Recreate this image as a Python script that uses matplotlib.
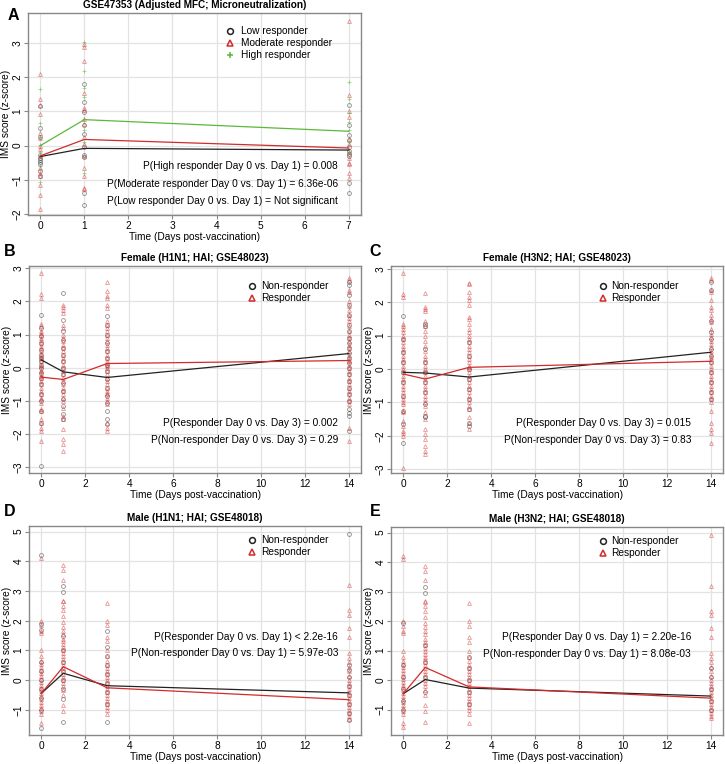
import matplotlib
matplotlib.use("Agg")
import matplotlib.pyplot as plt

plt.rcParams['font.family'] = ['Liberation Sans', 'DejaVu Sans']

# ---- panel A: GSE47353, days 0 / 1 / 7 ----
A_days = [0, 1, 7]
A_low = [
    [1.15, 0.51, 0.25, -0.28, -0.35, -0.42, -0.48, -0.55, -0.75, -0.90],
    [1.80, 1.28, 0.98, 0.60, 0.35, -0.05, -0.27, -0.32, -1.40, -1.73],
    [1.20, 0.60, 0.30, 0.15, -0.05, -0.15, -0.25, -0.30, -1.10, -1.40],
]
A_mod = [
    [2.09, 1.37, 1.18, 0.92, 0.38, 0.23, 0.00, -0.10, -0.30, -0.65, -0.80, -0.90, -1.15, -1.45, -1.85],
    [2.98, 2.88, 2.49, 1.55, 1.10, 1.05, 0.78, 0.64, 0.24, 0.05, -0.29, -0.65, -0.90, -1.25, -1.28],
    [3.65, 1.48, 1.00, 0.85, 0.20, 0.05, -0.20, -0.35, -0.50, -0.55, -0.80, -0.95],
]
A_high = [
    [1.65, 0.65, 0.25, 0.02, -0.20, -0.60, -1.05],
    [3.04, 2.17, 1.68, 1.43, 0.78, 0.47, 0.10, -0.80],
    [1.85, 1.35, 0.95, 0.70, 0.45, 0.10, -0.20],
]
A_low_mean = [-0.32, -0.08, -0.13]
A_mod_mean = [-0.30, 0.18, -0.07]
A_high_mean = [0.00, 0.76, 0.42]
A_pvals = ["P(High responder Day 0 vs. Day 1) = 0.008",
           "P(Moderate responder Day 0 vs. Day 1) = 6.36e-06",
           "P(Low responder Day 0 vs. Day 1) = Not significant"]

# ---- panels B-E: days 0 / 1 / 3 / 14 ----
days4 = [0, 1, 3, 14]

B_non = [
    [1.58, 1.2, 0.95, 0.75, 0.55, 0.4, 0.3, 0.2, 0.1, 0.0, -0.15, -0.3, -0.5, -0.8, -1.0, -1.3, -1.65, -2.97],
    [2.26, 1.45, 1.1, 0.85, 0.6, 0.4, 0.2, 0.0, -0.2, -0.45, -0.7, -0.95, -1.15, -1.4, -1.55],
    [1.55, 1.3, 1.0, 0.75, 0.5, 0.3, 0.1, -0.1, -0.35, -0.6, -0.85, -1.05, -1.3, -1.55, -1.7],
    [2.6, 2.5, 2.2, 1.9, 1.6, 1.3, 1.1, 0.9, 0.75, 0.6, 0.45, 0.3, 0.15, 0.0, -0.2, -0.4, -0.6, -0.8,
     -1.0, -1.25, -1.35, -1.45, -1.9],
]
B_res = [
    [2.86, 2.23, 2.1, 1.32, 1.25, 1.12, 1.05, 1.0, 0.9, 0.85, 0.75, 0.65, 0.6, 0.5, 0.42, 0.35, 0.3, 0.2,
     0.1, 0.05, -0.05, -0.1, -0.2, -0.25, -0.3, -0.4, -0.5, -0.6, -0.7, -0.8, -0.9, -0.95, -1.05, -1.25,
     -1.3, -1.55, -1.65, -1.8, -1.9, -2.2],
    [1.88, 1.82, 1.75, 1.65, 1.3, 1.2, 1.0, 0.9, 0.8, 0.7, 0.6, 0.5, 0.4, 0.3, 0.2, 0.1, 0.0, -0.1, -0.2,
     -0.3, -0.4, -0.5, -0.6, -0.7, -0.8, -0.9, -1.0, -1.2, -1.45, -1.55, -1.85, -2.15, -2.3, -2.5],
    [2.58, 2.32, 2.18, 2.1, 1.9, 1.8, 1.4, 1.3, 1.2, 1.1, 1.0, 0.9, 0.8, 0.7, 0.6, 0.5, 0.4, 0.3, 0.2,
     0.15, 0.1, 0.05, 0.0, -0.1, -0.2, -0.3, -0.4, -0.5, -0.6, -0.7, -0.75, -0.8, -0.9, -1.0, -1.1,
     -1.65, -1.8, -1.9],
    [2.72, 2.65, 2.35, 2.3, 2.0, 1.85, 1.75, 1.6, 1.5, 1.4, 1.25, 1.1, 1.0, 0.9, 0.8, 0.7, 0.6, 0.5, 0.4,
     0.3, 0.25, 0.2, 0.1, 0.0, -0.1, -0.2, -0.3, -0.4, -0.5, -0.6, -0.7, -0.8, -0.9, -1.0, -1.1, -1.8, -2.2],
]
B_non_mean = [0.24, -0.12, -0.29, 0.43]
B_res_mean = [-0.28, -0.35, 0.13, 0.22]
B_pvals = ["P(Responder Day 0 vs. Day 3) = 0.002",
           "P(Non-responder Day 0 vs. Day 3) = 0.29"]

C_non = [
    [1.58, 0.9, 0.5, 0.2, -0.1, -0.4, -0.8, -1.25, -1.65, -2.2],
    [1.35, 1.3, 0.6, 0.2, -0.1, -0.4, -0.7, -1.05, -1.4, -1.45],
    [0.8, 0.4, 0.0, -0.3, -0.6, -0.9, -1.2, -1.6, -1.7],
    [2.6, 2.35, 1.45, 1.1, 0.9, 0.6, 0.4, 0.2, -0.1, -0.4, -0.7, -0.9],
]
C_res = [
    [2.86, 2.25, 2.15, 1.35, 1.3, 1.2, 1.1, 1.0, 0.9, 0.8, 0.7, 0.6, 0.5, 0.4, 0.3, 0.2, 0.1, 0.0, -0.1,
     -0.2, -0.3, -0.4, -0.5, -0.6, -0.7, -0.8, -0.9, -1.0, -1.05, -1.25, -1.3, -1.55, -1.7, -1.85, -1.9,
     -2.0, -2.95],
    [2.28, 1.85, 1.8, 1.72, 1.45, 1.3, 1.15, 1.0, 0.85, 0.7, 0.55, 0.4, 0.3, 0.2, 0.1, 0.0, -0.1, -0.2,
     -0.3, -0.4, -0.5, -0.6, -0.7, -0.8, -0.9, -1.0, -1.1, -1.3, -1.5, -1.8, -1.95, -2.1, -2.3, -2.45, -2.55],
    [2.58, 2.55, 2.3, 2.15, 2.05, 1.9, 1.55, 1.5, 1.35, 1.2, 1.1, 1.0, 0.9, 0.8, 0.7, 0.6, 0.5, 0.4, 0.3,
     0.2, 0.1, 0.05, 0.0, -0.1, -0.2, -0.3, -0.4, -0.5, -0.6, -0.7, -0.8, -0.9, -1.0, -1.1, -1.2, -1.45,
     -1.6, -1.8],
    [2.72, 2.65, 2.35, 2.3, 2.05, 1.85, 1.75, 1.6, 1.5, 1.4, 1.2, 1.05, 0.95, 0.85, 0.75, 0.65, 0.55, 0.45,
     0.35, 0.3, 0.2, 0.1, 0.0, -0.1, -0.2, -0.3, -0.4, -0.5, -0.6, -0.7, -0.8, -0.9, -1.0, -1.25, -1.6,
     -1.8, -1.9, -2.2],
]
C_non_mean = [-0.10, -0.12, -0.24, 0.50]
C_res_mean = [-0.15, -0.30, 0.05, 0.23]
C_pvals = ["P(Responder Day 0 vs. Day 3) = 0.015",
           "P(Non-responder Day 0 vs. Day 3) = 0.83"]

D_non = [
    [4.2, 1.9, 1.7, 0.6, 0.3, 0.0, -0.3, -0.6, -1.0, -1.6],
    [3.17, 2.96, 1.5, 1.0, 0.6, 0.3, 0.0, -0.3, -0.65, -1.42],
    [1.67, 1.1, 0.8, 0.5, 0.2, -0.1, -0.4, -0.8, -1.42],
    [4.93, 0.5, 0.35, 0.1, -0.2, -0.5, -0.8, -1.1, -1.35],
]
D_res = [
    [4.1, 2.0, 1.85, 1.65, 1.6, 1.0, 0.8, 0.65, 0.55, 0.45, 0.35, 0.25, 0.15, 0.05, -0.05, -0.15, -0.25,
     -0.35, -0.45, -0.55, -0.65, -0.75, -0.85, -0.95, -1.05, -1.15, -1.45],
    [3.88, 3.7, 3.38, 2.68, 2.65, 2.5, 2.35, 2.15, 1.95, 1.8, 1.65, 1.55, 1.4, 1.3, 1.2, 1.1, 1.0, 0.9,
     0.8, 0.7, 0.6, 0.5, 0.4, 0.3, 0.2, 0.1, 0.0, -0.1, -0.2, -0.35, -0.5, -0.85, -1.05],
    [2.6, 2.0, 1.85, 1.45, 1.3, 1.0, 0.8, 0.65, 0.5, 0.4, 0.3, 0.2, 0.1, 0.0, -0.1, -0.2, -0.3, -0.4,
     -0.5, -0.6, -0.7, -0.8, -0.9, -1.0, -1.15],
    [3.2, 2.35, 2.2, 1.75, 1.45, 0.92, 0.75, 0.6, 0.45, 0.3, 0.15, 0.0, -0.1, -0.2, -0.3, -0.4, -0.5,
     -0.6, -0.7, -0.8, -0.9, -1.0, -1.1, -1.2, -1.3],
]
D_non_mean = [-0.45, 0.23, -0.19, -0.43]
D_res_mean = [-0.45, 0.45, -0.26, -0.66]
D_pvals = ["P(Responder Day 0 vs. Day 1) < 2.2e-16",
           "P(Non-responder Day 0 vs. Day 1) = 5.97e-03"]

E_non = [
    [1.95, 0.5, 0.1, -0.3, -0.7, -1.0],
    [3.17, 2.96, 1.2, 0.6, 0.1, -0.4],
    [0.8, 0.4, 0.0, -0.4, -0.8],
    [0.4, 0.1, -0.3, -0.7, -1.0],
]
E_res = [
    [4.2, 4.1, 2.0, 1.85, 1.65, 1.6, 1.0, 0.8, 0.65, 0.55, 0.45, 0.35, 0.25, 0.15, 0.05, -0.05, -0.15,
     -0.25, -0.35, -0.45, -0.55, -0.65, -0.75, -0.85, -0.95, -1.05, -1.15, -1.45, -1.6],
    [3.88, 3.7, 3.38, 2.68, 2.65, 2.5, 2.35, 2.15, 1.95, 1.8, 1.65, 1.55, 1.4, 1.3, 1.2, 1.1, 1.0, 0.9,
     0.8, 0.7, 0.6, 0.5, 0.4, 0.3, 0.2, 0.1, 0.0, -0.1, -0.2, -0.35, -0.5, -0.85, -1.05, -1.42],
    [2.6, 2.0, 1.85, 1.45, 1.3, 1.0, 0.8, 0.65, 0.5, 0.4, 0.3, 0.2, 0.1, 0.0, -0.1, -0.2, -0.3, -0.4,
     -0.5, -0.6, -0.7, -0.8, -0.9, -1.0, -1.15, -1.45],
    [4.93, 3.2, 2.35, 2.2, 1.75, 1.45, 0.92, 0.75, 0.6, 0.45, 0.3, 0.15, 0.0, -0.1, -0.2, -0.3, -0.4,
     -0.5, -0.6, -0.7, -0.8, -0.9, -1.0, -1.1, -1.2, -1.3],
]
E_non_mean = [-0.46, 0.02, -0.27, -0.54]
E_res_mean = [-0.46, 0.43, -0.23, -0.61]
E_pvals = ["P(Responder Day 0 vs. Day 1) = 2.20e-16",
           "P(Non-responder Day 0 vs. Day 1) = 8.08e-03"]

BLACK = "#222222"
RED = "#d22b2b"
GREEN = "#5cb83c"
FS = 7.3

W, H = 725, 764
fig = plt.figure(figsize=(W / 100, H / 100), dpi=100)


def px_axes(left, top, right, bottom):
    return fig.add_axes([left / W, 1 - bottom / H, (right - left) / W, (bottom - top) / H])


STYLES = {
    "low": dict(marker="o", color=BLACK, alpha=0.5, ms=2.8),
    "mod": dict(marker="^", color=RED, alpha=0.5, ms=2.8),
    "high": dict(marker="+", color=GREEN, alpha=0.6, ms=3.5),
}


def scatter_group(ax, days, values, style):
    for d, vals in zip(days, values):
        ax.plot([d] * len(vals), vals, ls="none", marker=style["marker"], ms=style["ms"],
                mfc="none", mec=style["color"], mew=0.6, alpha=style["alpha"])


def setup(ax, xticks, xlim, ylim, yticks, title, letter_xy, letter):
    ax.set_xlim(*xlim)
    ax.set_ylim(*ylim)
    ax.set_xticks(xticks)
    ax.set_yticks(yticks)
    ax.grid(True, color="#e3e3e3", lw=0.9)
    ax.set_axisbelow(True)
    for s in ax.spines.values():
        s.set_color("#888888")
        s.set_linewidth(1.0)
    ax.tick_params(axis="both", colors="#888888", labelcolor="black", labelsize=FS,
                   length=2.8, width=0.8, pad=1.5)
    ax.tick_params(axis="y", labelrotation=90, pad=1.2)
    ax.set_yticklabels([str(t).replace("-", "\u2212") for t in yticks])
    for lab in ax.get_yticklabels():
        lab.set_va("center")
    ax.set_xlabel("Time (Days post-vaccination)", fontsize=FS)
    ax.set_ylabel("IMS score (z-score)", fontsize=FS)
    bb = ax.get_position()
    hpx = bb.height * H
    wpx = bb.width * W
    ax.xaxis.set_label_coords(0.5, -22.5 / hpx)
    ax.xaxis.label.set_va("center")
    ax.yaxis.set_label_coords(-22 / wpx, 0.5)
    ax.yaxis.label.set_va("center")
    ax.text(0.5, 1 + 8 / hpx, title, transform=ax.transAxes, ha="center", va="center",
            fontsize=7.2, fontweight="bold")
    fig.text(letter_xy[0] / W, 1 - letter_xy[1] / H, letter, ha="center", va="center",
             fontsize=11.5, fontweight="bold")


def legend(ax, x_sym, x_txt, ys, items):
    for y, (style, label) in zip(ys, items):
        ax.plot([x_sym], [y], transform=ax.transAxes, marker=style["marker"], ls="none",
                ms=4.2 if style["marker"] != "+" else 5, mfc="none", mec=style["color"], mew=1.1)
        ax.text(x_txt, y, label, transform=ax.transAxes, ha="left", va="center", fontsize=FS)


def pvals(ax, x, ys, texts):
    for y, t in zip(ys, texts):
        ax.text(x, y, t, transform=ax.transAxes, ha="right", va="center", fontsize=FS)


# ---- A ----
axA = px_axes(28, 13, 361, 215)
scatter_group(axA, A_days, A_low, STYLES["low"])
scatter_group(axA, A_days, A_mod, STYLES["mod"])
scatter_group(axA, A_days, A_high, STYLES["high"])
axA.plot(A_days, A_low_mean, color=BLACK, lw=0.9)
axA.plot(A_days, A_mod_mean, color=RED, lw=0.9)
axA.plot(A_days, A_high_mean, color=GREEN, lw=0.9)
setup(axA, range(0, 8), (-0.28, 7.28), (-2.03, 3.88), [-2, -1, 0, 1, 2, 3],
      "GSE47353 (Adjusted MFC; Microneutralization)", (13, 15), "A")
legend(axA, 0.607, 0.640, [0.911, 0.851, 0.792],
       [(STYLES["low"], "Low responder"), (STYLES["mod"], "Moderate responder"),
        (STYLES["high"], "High responder")])
pvals(axA, 0.931, [0.243, 0.153, 0.069], A_pvals)

# ---- B-E ----
panels = [
    ("B", (29, 266, 361, 473), (10, 252), B_non, B_res, B_non_mean, B_res_mean, B_pvals,
     "Female (H1N1; HAI; GSE48023)", (-3.17, 3.07), [-3, -2, -1, 0, 1, 2, 3], 0.672, 0.699, 0.931,
     [0.905, 0.847], [0.243, 0.159]),
    ("C", (391, 266, 723, 473), (375, 252), C_non, C_res, C_non_mean, C_res_mean, C_pvals,
     "Female (H3N2; HAI; GSE48023)", (-3.11, 3.08), [-3, -2, -1, 0, 1, 2, 3], 0.638, 0.663, 0.904,
     [0.905, 0.847], [0.243, 0.159]),
    ("D", (29, 526, 361, 735), (10, 512), D_non, D_res, D_non_mean, D_res_mean, D_pvals,
     "Male (H1N1; HAI; GSE48018)", (-1.85, 5.19), [-1, 0, 1, 2, 3, 4, 5], 0.672, 0.699, 0.931,
     [0.932, 0.874], [0.470, 0.391]),
    ("E", (391, 527, 723, 735), (375, 512), E_non, E_res, E_non_mean, E_res_mean, E_pvals,
     "Male (H3N2; HAI; GSE48018)", (-1.86, 5.19), [-1, 0, 1, 2, 3, 4, 5], 0.638, 0.663, 0.904,
     [0.932, 0.874], [0.470, 0.391]),
]

for (letter, box, lxy, non, res, non_m, res_m, ptxt, title, ylim, yticks,
     xs, xt, xp, legy, py) in panels:
    ax = px_axes(*box)
    scatter_group(ax, days4, non, STYLES["low"])
    scatter_group(ax, days4, res, STYLES["mod"])
    ax.plot(days4, non_m, color=BLACK, lw=0.9)
    ax.plot(days4, res_m, color=RED, lw=0.9)
    setup(ax, range(0, 15, 2), (-0.56, 14.56), ylim, yticks, title, lxy, letter)
    legend(ax, xs, xt, legy, [(STYLES["low"], "Non-responder"), (STYLES["mod"], "Responder")])
    pvals(ax, xp, py, ptxt)

fig.savefig("out.png", dpi=100)
